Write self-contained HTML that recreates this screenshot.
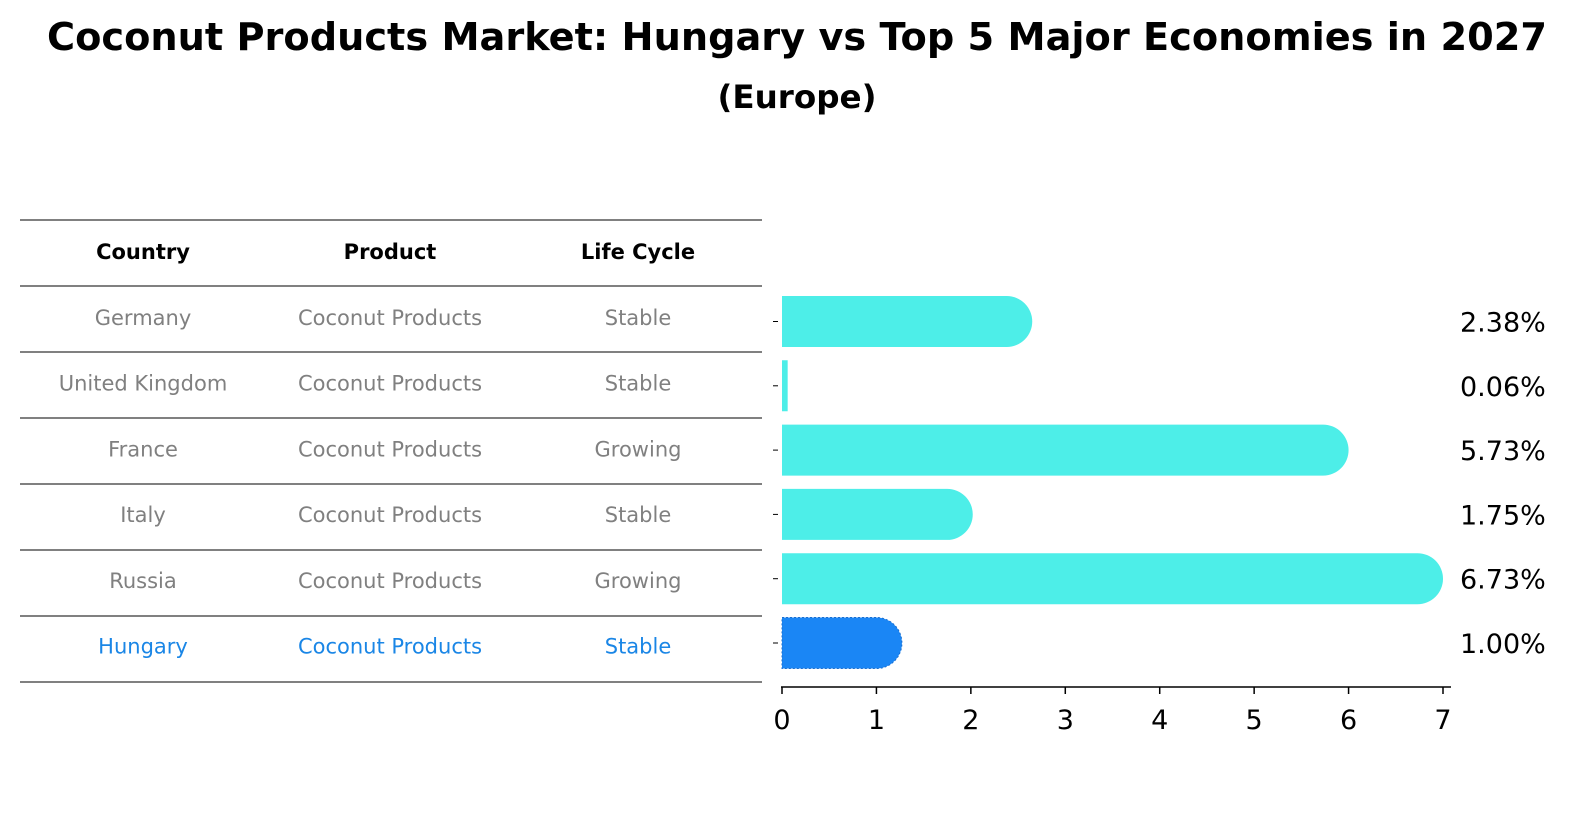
<!DOCTYPE html>
<html><head><meta charset="utf-8"><style>
html,body{margin:0;padding:0;width:1588px;height:823px;background:#fff;overflow:hidden}
svg{display:block}
</style></head><body>
<svg id="chart" width="1588" height="823" xmlns="http://www.w3.org/2000/svg" font-family="DejaVu Sans, Liberation Sans, sans-serif">
<text x="797" y="50" text-anchor="middle" font-size="38" font-weight="bold" textLength="1500" lengthAdjust="spacingAndGlyphs">Coconut Products Market: Hungary vs Top 5 Major Economies in 2027</text>
<text x="797" y="108" text-anchor="middle" font-size="32" font-weight="bold" textLength="159" lengthAdjust="spacingAndGlyphs">(Europe)</text>
<g id="table"></g>
<g id="bars"></g>
</svg>
<script>
const countries=["Germany","United Kingdom","France","Italy","Russia","Hungary"];
const products=["Coconut Products","Coconut Products","Coconut Products","Coconut Products","Coconut Products","Coconut Products"];
const lifeCycles=["Stable","Stable","Growing","Stable","Growing","Stable"];
const values=[2.38,0.06,5.73,1.75,6.73,1.00];
const valueLabels=["2.38%","0.06%","5.73%","1.75%","6.73%","1.00%"];
const xTicks=[0,1,2,3,4,5,6,7];
const NS="http://www.w3.org/2000/svg";
function mk(tag,attrs,parent,text){const e=document.createElementNS(NS,tag);for(const k in attrs)e.setAttribute(k,attrs[k]);if(text!==undefined)e.textContent=text;parent.appendChild(e);return e;}
const x=v=>782+v*(1443-782)/7;
const yC=i=>321.5+i*64.3;
const tbl=document.getElementById('table');
const lineYs=[220,286,352,418,484,550,616,682];
lineYs.forEach(y=>{const l=mk('line',{x1:20,x2:762,y1:y,y2:y,stroke:'#000','stroke-width':1},tbl);

});
const colX=[143,390,638];
["Country","Product","Life Cycle"].forEach((h,j)=>{const t=mk('text',{x:colX[j],y:259,'text-anchor':'middle','font-size':21,'font-weight':'bold'},tbl,h);

});
countries.forEach((c,i)=>{const col=i===countries.length-1?'#1a86e6':'#808080';const ty=318+i*65.7+7;
[c,products[i],lifeCycles[i]].forEach((v,j)=>{const t=mk('text',{x:colX[j],y:ty,'text-anchor':'middle','font-size':21,fill:col},tbl,v);

});});
const g=document.getElementById('bars');
const h=51,r=25.5;
values.forEach((v,i)=>{const hu=i===values.length-1;const col=hu?'#1a86f5':'#4deee8';
const x0=x(0),x1=x(v),yt=yC(i)-h/2;let d;
if(x1-x0>r){d=`M${x0},${yt} H${x1} A${r},${r} 0 0 1 ${x1},${yt+h} H${x0} Z`;}
else{d=`M${x0},${yt} H${x1} V${yt+h} H${x0} Z`;}
const p=mk('path',{d:d,fill:col},g);
if(hu){p.setAttribute('stroke','#1a6fd0');p.setAttribute('stroke-dasharray','2,2');p.setAttribute('stroke-width','1');}


const t=mk('text',{x:1460,y:yC(i)+10,'font-size':27,fill:'#000'},g,valueLabels[i]);


const tk=mk('line',{x1:773,x2:778,y1:yC(i),y2:yC(i),stroke:'#000','stroke-width':1},g);

});
const ax=mk('line',{x1:781,x2:1451,y1:687,y2:687,stroke:'#000','stroke-width':1.5},g);


xTicks.forEach(v=>{const l=mk('line',{x1:x(v),x2:x(v),y1:687,y2:694,stroke:'#000','stroke-width':1.5},g);


const t=mk('text',{x:x(v),y:729,'text-anchor':'middle','font-size':27},g,String(v));

});
</script>
</body></html>
